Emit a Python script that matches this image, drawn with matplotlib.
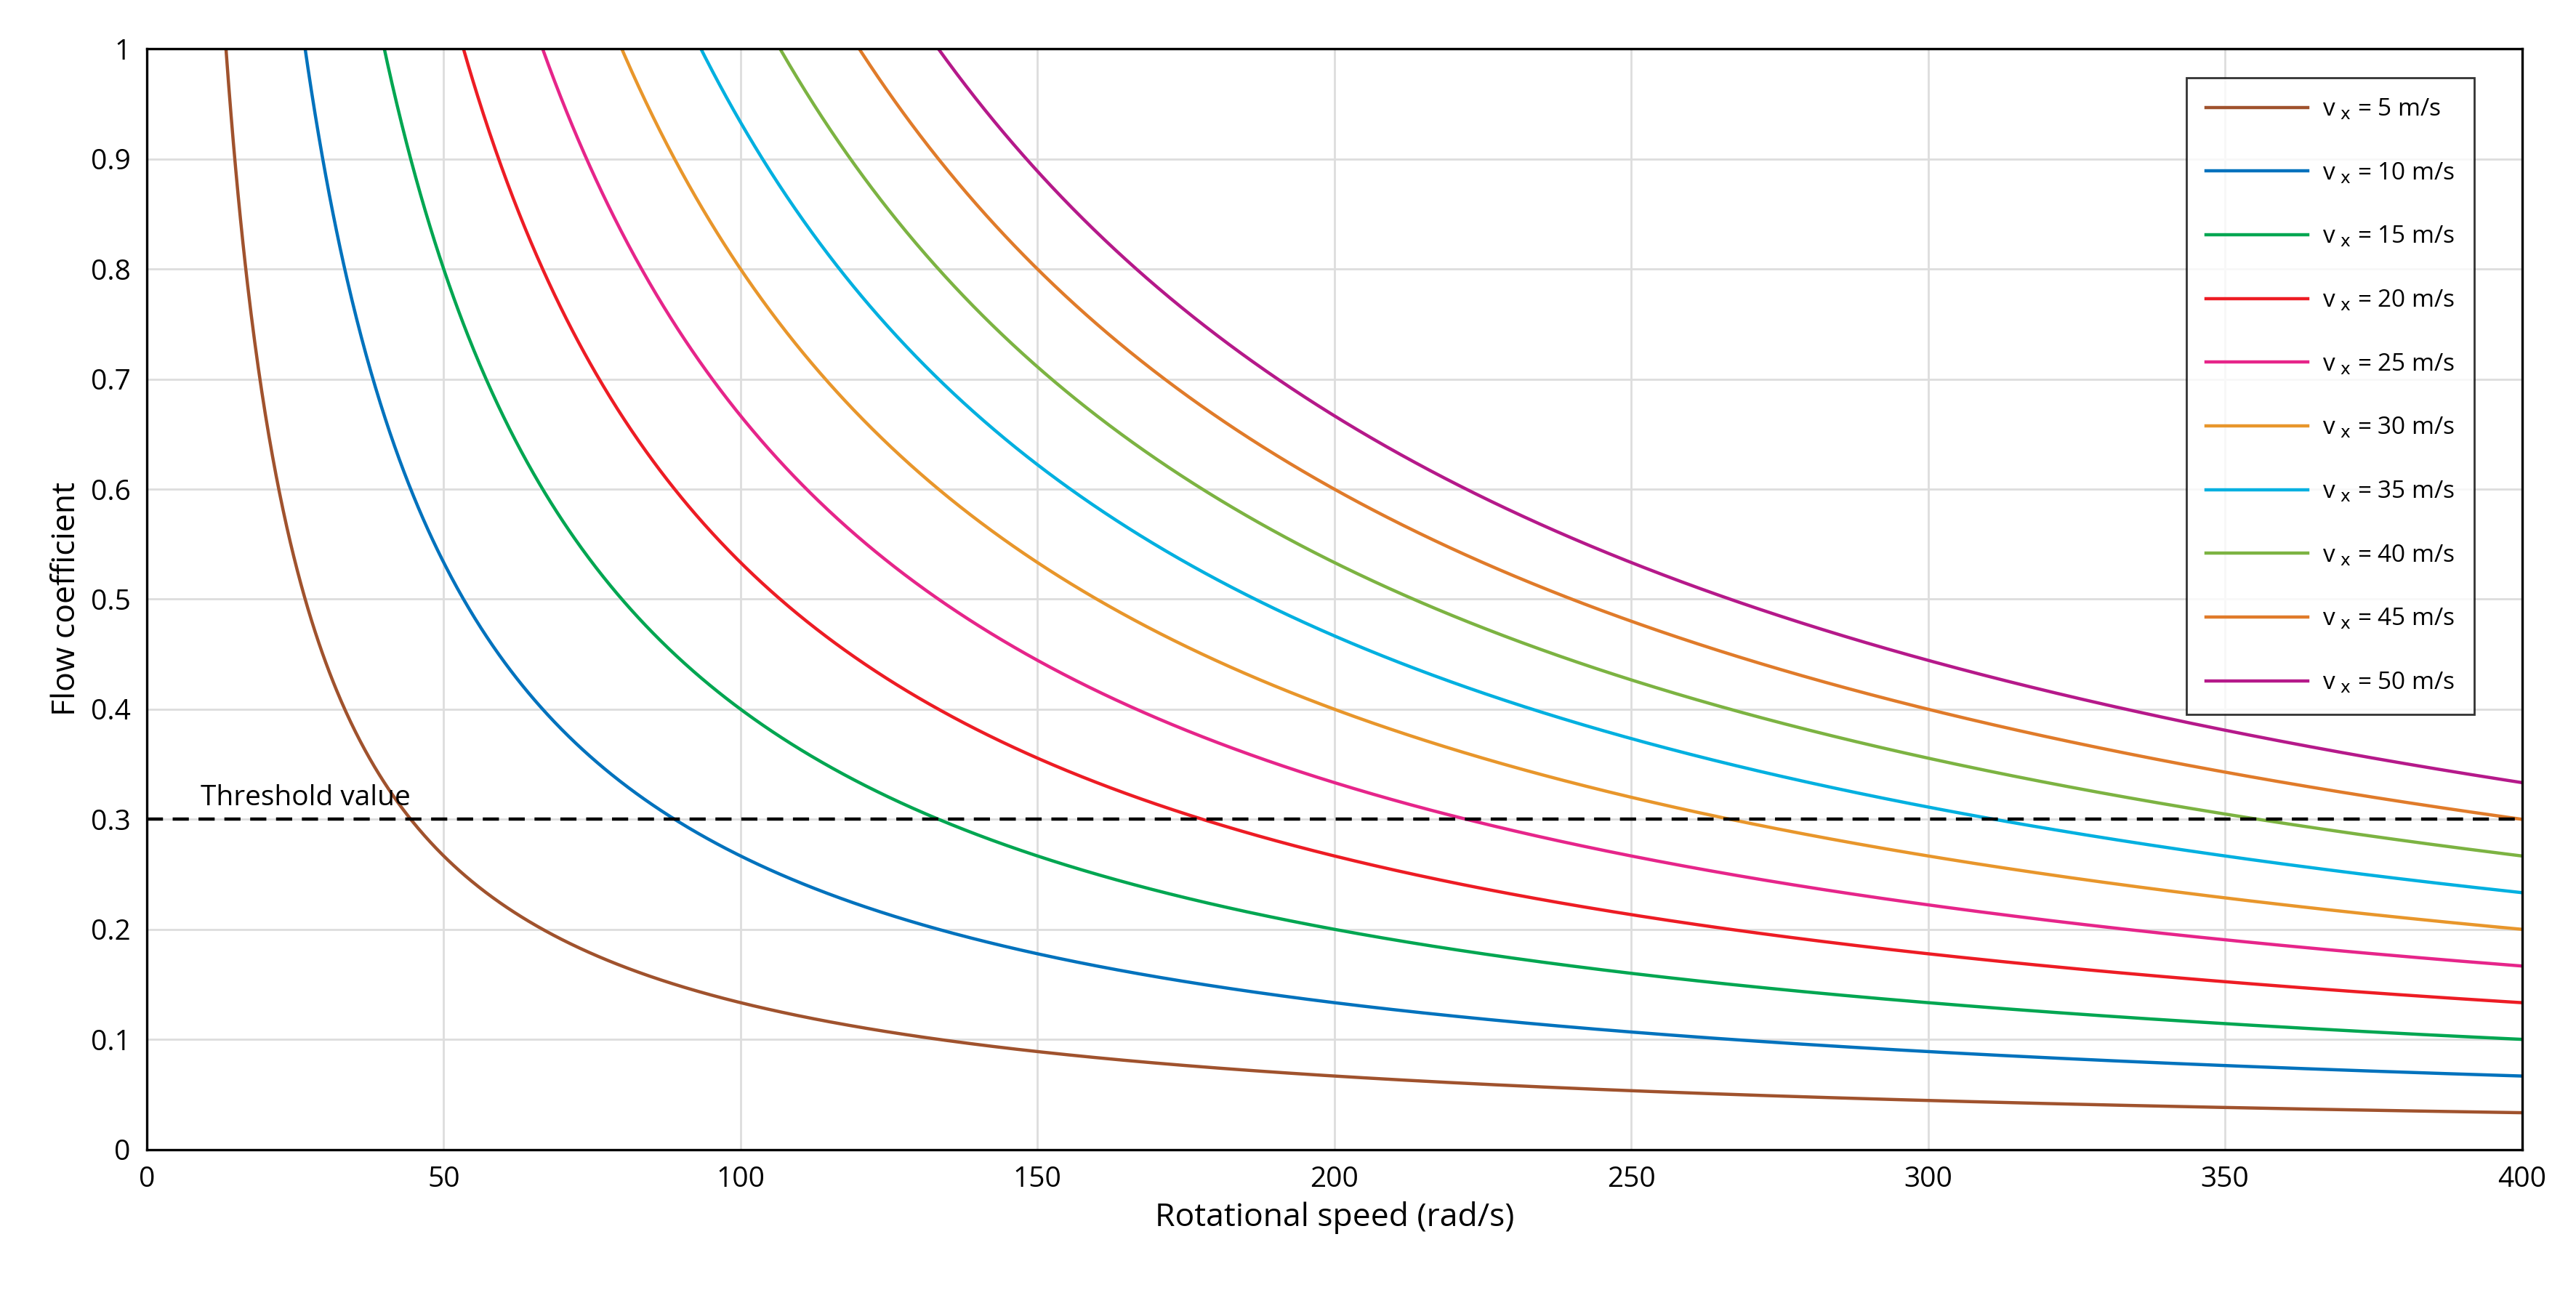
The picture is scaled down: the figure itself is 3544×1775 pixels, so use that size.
import numpy as np
import matplotlib.pyplot as plt

plt.rcParams['font.family'] = ['Open Sans', 'DejaVu Sans']

# axial velocities (m/s) and their line colours
speeds = [5, 10, 15, 20, 25, 30, 35, 40, 45, 50]
colors = ['#a0522d', '#0072bd', '#00a651', '#ed1c24', '#e6258a',
          '#e8962b', '#00b0e0', '#7cb342', '#e07b2a', '#b5198a']
rotor_radius = 0.375  # m, flow coefficient = v_x / (omega * r)
threshold = 0.3

omega = np.linspace(1, 400, 2000)

fig, ax = plt.subplots(figsize=(17.72, 8.875), dpi=200)
fig.subplots_adjust(left=0.057, right=0.979, top=0.962, bottom=0.109)

for v, c in zip(speeds, colors):
    phi = v / (omega * rotor_radius)
    ax.plot(omega, phi, color=c, lw=1.6, label='v$_{\\ \\mathrm{x}}$ = %d m/s' % v)

ax.axhline(threshold, color='black', ls=(0, (5, 3)), lw=1.6)
ax.text(9, threshold + 0.013, 'Threshold value', fontsize=14)

ax.set_xlim(0, 400)
ax.set_ylim(0, 1)
ax.set_xticks(np.arange(0, 401, 50))
ax.set_yticks(np.arange(0, 1.01, 0.1))
ax.set_yticklabels(['0', '0.1', '0.2', '0.3', '0.4', '0.5', '0.6', '0.7', '0.8', '0.9', '1'])
ax.tick_params(labelsize=14, length=0, pad=8)
ax.grid(color='#dddddd', lw=1)
ax.set_xlabel('Rotational speed (rad/s)', fontsize=16)
ax.set_ylabel('Flow coefficient', fontsize=16)
for s in ax.spines.values():
    s.set_linewidth(1.2)

leg = ax.legend(loc='upper right', fontsize=12, fancybox=False, edgecolor='black',
                borderpad=0.8, labelspacing=1.62, handlelength=4.2, handletextpad=0.6,
                bbox_to_anchor=(0.985, 0.985))
leg.get_frame().set_linewidth(1.0)

plt.savefig('out.png')
